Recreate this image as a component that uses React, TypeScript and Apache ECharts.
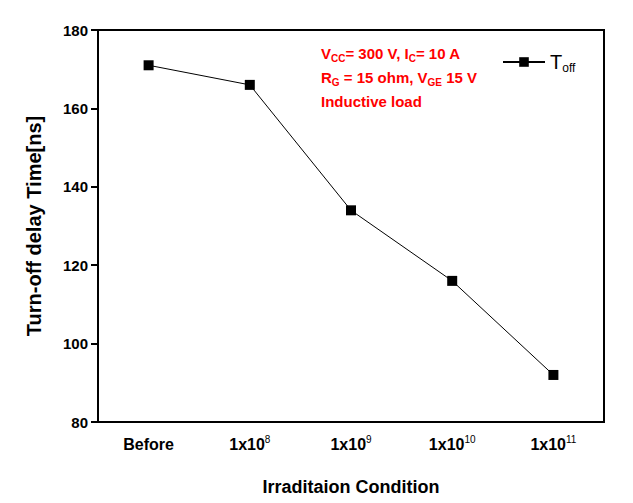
import React, { useEffect, useRef } from "react";
import * as echarts from "echarts";

const categories = ["Before", "1x10^8", "1x10^9", "1x10^10", "1x10^11"];
const toffValues = [171, 166, 134, 116, 92];
const yTicks = { min: 80, max: 180, interval: 20 };

const FONT = "'Liberation Sans Narrow', 'Liberation Sans', Arial, sans-serif";

export default function App() {
  const ref = useRef<HTMLDivElement>(null);
  useEffect(() => {
    document.body.style.margin = "0";
    const chart = echarts.init(ref.current!, undefined, { renderer: "svg" });
    chart.setOption({
      animation: false,
      backgroundColor: "#ffffff",
      grid: { left: 98, right: 29, top: 30, bottom: 81, show: true, borderColor: "#000", borderWidth: 2 },
      legend: {
        show: true,
        left: 497,
        top: 45,
        itemWidth: 42,
        itemHeight: 12,
        itemGap: 4,
        data: [{ name: "Toff" }],
        formatter: () => "{t|T}{s|off}",
        textStyle: {
          rich: {
            t: { fontFamily: FONT, fontSize: 20, color: "#000", lineHeight: 22 },
            s: { fontFamily: FONT, fontSize: 12, color: "#000", lineHeight: 22, padding: [12, 0, 0, 0] },
          },
        },
      },
      xAxis: {
        type: "category",
        data: categories,
        boundaryGap: true,
        name: "Irraditaion Condition",
        nameLocation: "middle",
        nameGap: 56,
        nameTextStyle: { fontFamily: FONT, fontSize: 18, fontWeight: "bold", color: "#000" },
        axisLine: { lineStyle: { color: "#000", width: 2 } },
        axisTick: { alignWithLabel: true, length: 7, lineStyle: { color: "#000", width: 2 } },
        axisLabel: {
          interval: 0,
          margin: 12,
          color: "#000",
          formatter: (v: string) => {
            const m = v.split("^");
            return m.length > 1 ? `{b|${m[0]}}{sup|${m[1]}}` : `{b|${v}}`;
          },
          rich: {
            b: { fontFamily: FONT, fontSize: 16, fontWeight: "bold", color: "#000", lineHeight: 20 },
            sup: { fontFamily: FONT, fontSize: 10, color: "#000", lineHeight: 20, padding: [0, 0, 9, 0] },
          },
        },
        splitLine: { show: false },
      },
      yAxis: {
        type: "value",
        min: yTicks.min,
        max: yTicks.max,
        interval: yTicks.interval,
        name: "Turn-off delay Time[ns]",
        nameLocation: "middle",
        nameGap: 54,
        nameTextStyle: { fontFamily: FONT, fontSize: 20, fontWeight: "bold", color: "#000" },
        axisLine: { show: true, lineStyle: { color: "#000", width: 2 } },
        axisTick: { show: true, length: 7, lineStyle: { color: "#000", width: 2 } },
        axisLabel: { margin: 10, fontFamily: FONT, fontSize: 15, fontWeight: "bold", color: "#000" },
        splitLine: { show: false },
      },
      graphic: [
        {
          type: "text",
          left: 321,
          top: 43,
          style: {
            text: "{r|V}{rs|CC}{r|= 300 V, I}{rs|C}{r|= 10 A}\n{r|R}{rs|G}{r| = 15 ohm, V}{rs|GE}{r| 15 V}\n{r|Inductive load}",
            rich: {
              r: { fontFamily: FONT, fontSize: 15, fontWeight: "bold", fill: "#ff0000", lineHeight: 24 },
              rs: { fontFamily: FONT, fontSize: 10, fontWeight: "bold", fill: "#ff0000", lineHeight: 24, padding: [10, 0, 0, 0] },
            },
          },
        },
      ],
      series: [
        {
          name: "Toff",
          type: "line",
          data: toffValues,
          symbol: "rect",
          symbolSize: 10,
          itemStyle: { color: "#000" },
          lineStyle: { color: "#000", width: 1 },
        },
      ],
    });
    return () => chart.dispose();
  }, []);
  return <div ref={ref} style={{ position: "absolute", left: 0, top: 0, width: 633, height: 503 }} />;
}
